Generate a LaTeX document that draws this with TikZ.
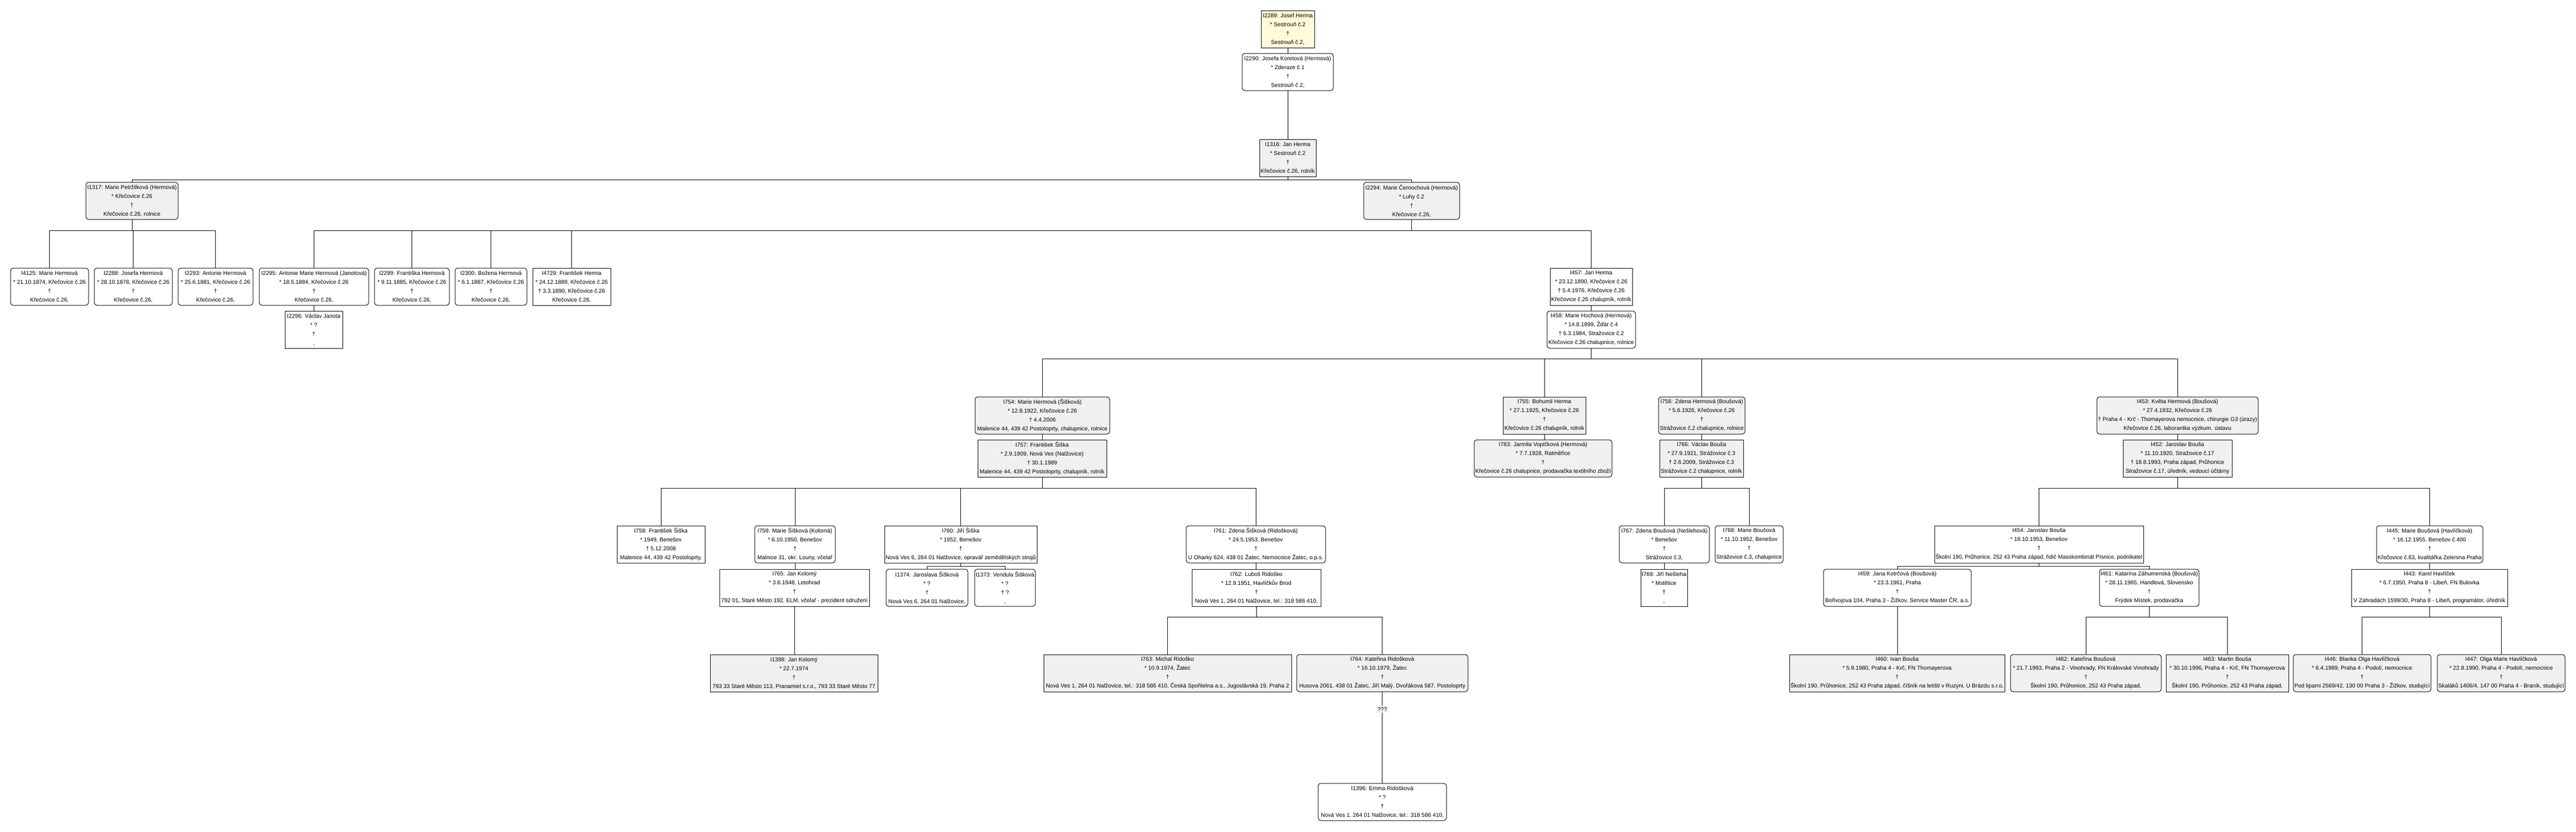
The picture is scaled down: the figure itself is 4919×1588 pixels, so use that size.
\documentclass[tikz,border=0pt]{standalone}
\usepackage{fontspec}
\setmainfont{Liberation Sans}
\usepackage{graphicx}
\definecolor{boxgray}{RGB}{240,240,240}
\definecolor{boxyellow}{RGB}{255,250,215}
\newlength\boxw
\newsavebox\lnbox
\newcommand\fl[1]{\sbox\lnbox{#1}\ifdim\wd\lnbox>\boxw\resizebox{\boxw}{\height}{\usebox\lnbox}\else\usebox\lnbox\fi}
\newcommand\pn[9]{%
  \setlength\boxw{\dimexpr #4pt-#3pt-4pt\relax}%
  \node[#1, minimum width={#4pt-#3pt}] (#2) at ({(#3+#4)/2},{#5+35.5}) {\fl{#6}\\\fl{#7}\\\fl{#8}\\\fl{#9}};}
\newcommand\spl[2]{\draw[ln] (#1.south) -- (#1.south |- #2.north);}
\newcommand\fambus[5]{%
  \coordinate (busy) at (0,#2);
  \draw[ln] (#1.south) -- (#1.south |- busy);
  \draw[ln] (#3.north |- busy) -- (#4.north |- busy);
  \foreach \c in {#5} {\draw[ln] (\c.north) -- (\c.north |- busy);}
}
\begin{document}
\begin{tikzpicture}[x=1pt,y=-1pt,
  pbox/.style={draw=black, line width=1pt, inner sep=0pt, outer sep=0pt,
    minimum height=71pt, align=center, text=black,
    font=\fontsize{10.8}{17}\selectfont},
  sqw/.style={pbox, fill=white},
  sqg/.style={pbox, fill=boxgray},
  sqy/.style={pbox, fill=boxyellow},
  rdw/.style={pbox, fill=white, rounded corners=5pt},
  rdg/.style={pbox, fill=boxgray, rounded corners=5pt},
  ln/.style={line width=1pt, draw=black},
  lbl/.style={fill=boxgray, inner sep=2.5pt, font=\fontsize{10.8}{13}\selectfont}]
\useasboundingbox (0,0) rectangle (4919,1588);
\fill[white] (0,0) rectangle (4919,1588);

% generation 0-2
\pn{sqy}{I2289}{2408}{2510}{20}{I2289: Josef Herma}{* Sestrouň č.2}{†}{Sestrouň č.2,}
\pn{rdw}{I2290}{2372}{2546}{102}{I2290: Josefa Koretová (Hermová)}{* Zderaze č.1}{†}{Sestrouň č.2,}
\pn{sqg}{I1316}{2405}{2513}{266}{I1316: Jan Herma}{* Sestrouň č.2}{†}{Křečovice č.26, rolník}
\pn{rdg}{I1317}{164}{340}{348}{I1317: Marie Petržilková (Hermová)}{* Křečovice č.26}{†}{Křečovice č.26, rolnice}
\pn{rdg}{I2294}{2604}{2787}{348}{I2294: Marie Černochová (Hermová)}{* Luhy č.2}{†}{Křečovice č.26,}

% generation 3
\pn{rdw}{I4125}{20}{169}{512}{I4125: Marie Hermová}{* 21.10.1874, Křečovice č.26}{†}{Křečovice č.26,}
\pn{rdw}{I2288}{180}{329}{512}{I2288: Josefa Hermová}{* 28.10.1878, Křečovice č.26}{†}{Křečovice č.26,}
\pn{rdw}{I2293}{340}{483}{512}{I2293: Antonie Hermová}{* 25.6.1881, Křečovice č.26}{†}{Křečovice č.26,}
\pn{rdw}{I2295}{495}{704}{512}{I2295: Antonie Marie Hermová (Janotová)}{* 18.5.1884, Křečovice č.26}{†}{Křečovice č.26,}
\pn{sqw}{I2296}{544}{654}{594}{I2296: Václav Janota}{* ?}{†}{,}
\pn{rdw}{I2299}{715}{858}{512}{I2299: Františka Hermová}{* 9.11.1885, Křečovice č.26}{†}{Křečovice č.26,}
\pn{rdw}{I2300}{869}{1006}{512}{I2300: Božena Hermová}{* 6.1.1887, Křečovice č.26}{†}{Křečovice č.26,}
\pn{sqw}{I4729}{1017}{1166}{512}{I4729: František Herma}{* 24.12.1889, Křečovice č.26}{† 3.3.1890, Křečovice č.26}{Křečovice č.26,}
\pn{sqw}{I457}{2960}{3117}{512}{I457: Jan Herma}{* 23.12.1890, Křečovice č.26}{† 5.4.1976, Křečovice č.26}{Křečovice č.26 chalupník, rolník}
\pn{rdw}{I458}{2954}{3123}{594}{I458: Marie Hochová (Hermová)}{* 14.8.1899, Žďár č.4}{† 6.3.1984, Stražovice č.2}{Křečovice č.26 chalupnice, rolnice}

% generation 4
\pn{rdg}{I754}{1862}{2119}{758}{I754: Marie Hermová (Šišková)}{* 12.8.1922, Křečovice č.26}{† 4.4.2006}{Malenice 44, 439 42 Postoloprty, chalupnice, rolnice}
\pn{sqg}{I757}{1867}{2113}{840}{I757: František Šiška}{* 2.9.1909, Nová Ves (Nalžovice)}{† 30.1.1989}{Malenice 44, 439 42 Postoloprty, chalupník, rolník}
\pn{sqg}{I755}{2870}{3028}{758}{I755: Bohumil Herma}{* 27.1.1925, Křečovice č.26}{†}{Křečovice č.26 chalupník, rolník}
\pn{rdg}{I783}{2815}{3078}{840}{I783: Jarmila Vopičková (Hermová)}{* 7.7.1928, Ratměřice}{†}{Křečovice č.26 chalupnice, prodavačka textilního zboží}
\pn{rdg}{I756}{3167}{3332}{758}{I756: Zdena Hermová (Boušová)}{* 5.6.1926, Křečovice č.26}{†}{Strážovice č.2 chalupnice, rolnice}
\pn{sqg}{I766}{3169}{3329}{840}{I766: Václav Bouša}{* 27.9.1921, Strážovice č.3}{† 2.6.2009, Strážovice č.3}{Strážovice č.2 chalupnice, rolník}
\pn{rdg}{I453}{4004}{4312}{758}{I453: Květa Hermová (Boušová)}{* 27.4.1932, Křečovice č.26}{† Praha 4 - Krč - Thomayerova nemocnice, chirurgie G3 (úrazy)}{Křečovice č.26, laborantka výzkum. ústavu}
\pn{sqg}{I452}{4054}{4262}{840}{I452: Jaroslav Bouša}{* 11.10.1920, Stražovice č.17}{† 18.8.1993, Praha západ, Průhonice}{Stražovice č.17, úředník, vedoucí účtárny}

% generation 5
\pn{sqw}{I758}{1178}{1346}{1004}{I758: František Šiška}{* 1949, Benešov}{† 5.12.2008}{Malenice 44, 439 42 Postoloprty,}
\pn{rdw}{I759}{1441}{1595}{1004}{I759: Marie Šišková (Kolomá)}{* 6.10.1950, Benešov}{†}{Malnice 31, okr. Louny, včelař}
\pn{sqw}{I765}{1374}{1660}{1087}{I765: Jan Kolomý}{* 3.6.1948, Letohrad}{†}{792 01, Staré Město 192, ELM, včelař - prezident sdružení}
\pn{sqw}{I760}{1689}{1980}{1004}{I760: Jiří Šiška}{* 1952, Benešov}{†}{Nová Ves 6, 264 01 Nalžovice, opravář zemědělských strojů}
\pn{rdw}{I1374}{1692}{1848}{1087}{I1374: Jaroslava Šišková}{* ?}{†}{Nová Ves 6, 264 01 Nalžovice,}
\pn{rdw}{I1373}{1861}{1977}{1087}{I1373: Vendula Šišková}{* ?}{† ?}{,}
\pn{rdw}{I761}{2265}{2531}{1004}{I761: Zdena Šišková (Ridošková)}{* 24.5.1953, Benešov}{†}{U Oharky 624, 438 01 Žatec, Nemocnice Žatec, o.p.s.}
\pn{sqw}{I762}{2276}{2522}{1087}{I762: Luboš Ridoško}{* 12.9.1951, Havlíčkův Brod}{†}{Nová Ves 1, 264 01 Nalžovice, tel.: 318 586 410,}
\pn{rdw}{I767}{3092}{3264}{1004}{I767: Zdena Boušová (Nešlehová)}{* Benešov}{†}{Strážovice č.3,}
\pn{sqw}{I769}{3133}{3222}{1087}{I769: Jiří Nešleha}{* Mstětice}{†}{,}
\pn{rdw}{I768}{3275}{3405}{1004}{I768: Marie Boušová}{* 11.10.1952, Benešov}{†}{Strážovice č.3, chalupnice}
\pn{sqw}{I454}{3694}{4093}{1004}{I454: Jaroslav Bouša}{* 18.10.1953, Benešov}{†}{Školní 190, Průhonice, 252 43 Praha západ, řidič Masokombinát Písnice, podnikatel}
\pn{rdw}{I459}{3482}{3764}{1087}{I459: Jana Kotrčová (Boušová)}{* 23.3.1961, Praha}{†}{Bořivojova 104, Praha 3 - Žižkov, Service Master ČR, a.s.}
\pn{rdw}{I461}{4009}{4199}{1087}{I461: Katarína Záhumenská (Boušová)}{* 28.11.1965, Handlová, Slovensko}{†}{Frýdek Místek, prodavačka}
\pn{rdw}{I445}{4538}{4741}{1004}{I445: Marie Boušová (Havlíčková)}{* 16.12.1955, Benešov č.400}{†}{Křečovice č.63, kvalitářka Zelenina Praha}
\pn{sqw}{I443}{4490}{4788}{1087}{I443: Karel Havlíček}{* 6.7.1950, Praha 8 - Libeň, FN Bulovka}{†}{V Zahradách 1599/30, Praha 8 - Libeň, programátor, úředník}

% generation 6
\pn{sqg}{I1398}{1356}{1676}{1250}{I1398: Jan Kolomý}{* 22.7.1974}{†}{793 33 Staré Město 113, Pranamiel s.r.o., 793 33 Staré Město 77}
\pn{sqg}{I763}{1993}{2466}{1250}{I763: Michal Ridoško}{* 10.9.1974, Žatec}{†}{Nová Ves 1, 264 01 Nalžovice, tel.: 318 586 410, Česká Spořitelna a.s., Jugoslávská 19, Praha 2}
\pn{rdg}{I764}{2476}{2803}{1250}{I764: Kateřina Ridošková}{* 16.10.1979, Žatec}{†}{Husova 2061, 438 01 Žatec, Jiří Malý, Dvořákova 587, Postoloprty}
\pn{sqg}{I460}{3417}{3828}{1250}{I460: Ivan Bouša}{* 5.9.1980, Praha 4 - Krč, FN Thomayerova}{†}{Školní 190, Průhonice, 252 43 Praha západ, číšník na letišti v Ruzyni, U Brázdu s.r.o.}
\pn{rdg}{I462}{3839}{4127}{1250}{I462: Kateřina Boušová}{* 21.7.1993, Praha 2 - Vinohrady, FN Královské Vinohrady}{†}{Školní 190, Průhonice, 252 43 Praha západ,}
\pn{sqg}{I463}{4136}{4370}{1250}{I463: Martin Bouša}{* 30.10.1996, Praha 4 - Krč, FN Thomayerova}{†}{Školní 190, Průhonice, 252 43 Praha západ,}
\pn{rdg}{I446}{4379}{4642}{1250}{I446: Blanka Olga Havlíčková}{* 6.4.1989, Praha 4 - Podolí, nemocnice}{†}{Pod lipami 2569/42, 130 00 Praha 3 - Žižkov, studující}
\pn{rdg}{I447}{4654}{4898}{1250}{I447: Olga Marie Havlíčková}{* 22.8.1990, Praha 4 - Podolí, nemocnice}{†}{Skaláků 1406/4, 147 00 Praha 4 - Braník, studující}

% generation 7
\pn{rdw}{I1396}{2517}{2762}{1496}{I1396: Emma Ridošková}{* ?}{†}{Nová Ves 1, 264 01 Nalžovice, tel.: 318 586 410,}

% spouse links and single descents
\spl{I2289}{I2290}
\spl{I2290}{I1316}
\spl{I2295}{I2296}
\spl{I457}{I458}
\spl{I754}{I757}
\spl{I755}{I783}
\spl{I756}{I766}
\spl{I453}{I452}
\spl{I759}{I765}
\spl{I761}{I762}
\spl{I767}{I769}
\spl{I445}{I443}
\spl{I765}{I1398}
\spl{I459}{I460}
\draw[ln] (I764.south) -- node[pos=0.19, lbl] {???} (I764.south |- I1396.north);

% family buses
\fambus{I1316}{343}{I1317}{I2294}{I1317,I2294}
\fambus{I1317}{440}{I4125}{I2293}{I4125,I2288,I2293}
\fambus{I2294}{440}{I2295}{I457}{I2295,I2299,I2300,I4729,I457}
\fambus{I458}{685}{I754}{I453}{I754,I755,I756,I453}
\fambus{I757}{932}{I758}{I761}{I758,I759,I760,I761}
\fambus{I766}{932}{I767}{I768}{I767,I768}
\fambus{I452}{932}{I454}{I445}{I454,I445}
\fambus{I760}{1081}{I1374}{I1373}{I1374,I1373}
\fambus{I454}{1081}{I459}{I461}{I459,I461}
\fambus{I762}{1178}{I763}{I764}{I763,I764}
\fambus{I461}{1178}{I462}{I463}{I462,I463}
\fambus{I443}{1178}{I446}{I447}{I446,I447}
\end{tikzpicture}
\end{document}
